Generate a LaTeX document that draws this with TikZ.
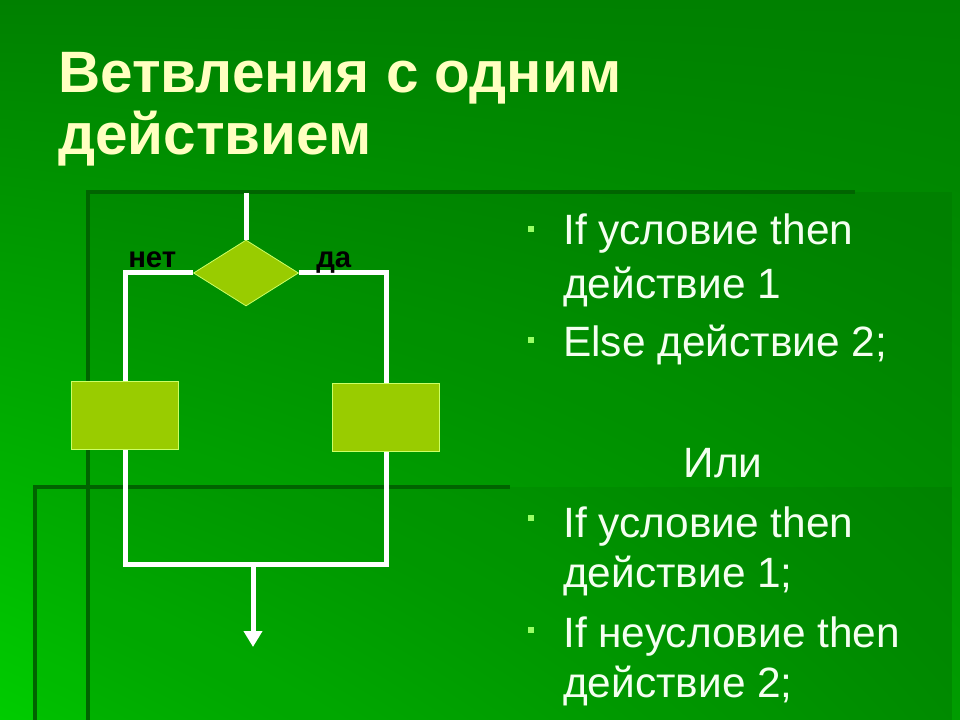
\documentclass[tikz,border=0pt]{standalone}
\usepackage{fontspec}
\setmainfont{Liberation Sans}
\usetikzlibrary{shapes.geometric, arrows.meta, shadings}

\definecolor{bgtop}{HTML}{008000}
\definecolor{bgleft}{HTML}{00CC00}
\definecolor{bgright}{HTML}{009C00}
\definecolor{panelline}{HTML}{006400}
\definecolor{titletext}{HTML}{FFFFC0}
\definecolor{itemtext}{HTML}{F4FFF0}
\definecolor{markgreen}{HTML}{99FF66}
\definecolor{actfill}{HTML}{99CC00}
\definecolor{actedge}{HTML}{CCFF66}

\tikzset{
  flow/.style={draw=white, line width=3.75pt},
  panel/.style={draw=panelline, line width=3pt},
  decision/.style={diamond, fill=actfill, draw=actedge, line width=0.6pt,
    minimum width=78.75pt, minimum height=49.5pt, inner sep=0pt},
  block/.style={rectangle, fill=actfill, draw=actedge, line width=0.6pt,
    minimum width=80.25pt, minimum height=51pt, inner sep=0pt},
  branch/.style={anchor=base west, inner sep=0pt, font=\bfseries\fontsize{22}{26}\selectfont},
  item/.style={anchor=base west, inner sep=0pt, text=itemtext, font=\fontsize{31.8}{36}\selectfont},
  bulletmark/.style={rectangle, fill=markgreen, minimum size=4.5pt, inner sep=0pt}
}

\begin{document}
\begin{tikzpicture}[x=0.75pt, y=-0.75pt]
    % background
    \shade[upper left=bgtop, upper right=bgtop, lower left=bgleft, lower right=bgright]
        (0,0) rectangle (960,720);
    \useasboundingbox (0,0) rectangle (960,720);
    \fill[black, opacity=0.06] (88,192) rectangle (952,720);
    \fill[black, opacity=0.05] (35,487) rectangle (952,720);
    \draw[panel] (88,720) -- (88,192) -- (855,192);
    \draw[panel] (35,720) -- (35,487) -- (510,487);

    % title
    \node[anchor=base west, inner sep=0pt, text=titletext, font=\bfseries\fontsize{43.8}{47}\selectfont]
        (title1) at (58,93) {Ветвления с одним};
    \node[anchor=base west, inner sep=0pt, text=titletext, font=\bfseries\fontsize{43.8}{47}\selectfont]
        (title2) at (58,155) {действием};

    % flowchart
    \coordinate (entry) at (246,193);
    \coordinate (merge) at (253,564);
    \coordinate (exit) at (253,647);
    \node[decision] (test) at (246,273) {};
    \node[block] (no) at (125,415) {};
    \node[block] (yes) at (386,417) {};

    \draw[flow] (entry) -- (test.north);
    \draw[flow] (test.west) -| (no.north);
    \draw[flow] (test.east) -| (yes.north);
    \draw[flow] (no.south) -- (no.south |- merge) -- (yes.south |- merge) -- (yes.south);
    \draw[flow, -{Triangle[width=13.5pt, length=12pt]}] (merge) -- (exit);
    \node[block] at (no) {};
    \node[block] at (yes) {};

    \node[branch] (nolabel) at (128,268) {нет};
    \node[branch] (yeslabel) at (316,268) {да};

    % text on the right
    \node[bulletmark] (mark1) at (531,229) {};
    \node[item] (line1a) at (563,245) {If условие then};
    \node[item] (line1b) at (563,298) {действие 1};
    \node[bulletmark] (mark2) at (531,340) {};
    \node[item] (line2) at (563,356) {Else действие 2;};
    \node[item, anchor=base] (alt) at (723,477) {Или};
    \node[bulletmark] (mark3) at (531,518) {};
    \node[item] (line3a) at (563,537) {If условие then};
    \node[item] (line3b) at (563,587) {действие 1;};
    \node[bulletmark] (mark4) at (531,630) {};
    \node[item] (line4a) at (563,647) {If неусловие then};
    \node[item] (line4b) at (563,697) {действие 2;};
\end{tikzpicture}
\end{document}
